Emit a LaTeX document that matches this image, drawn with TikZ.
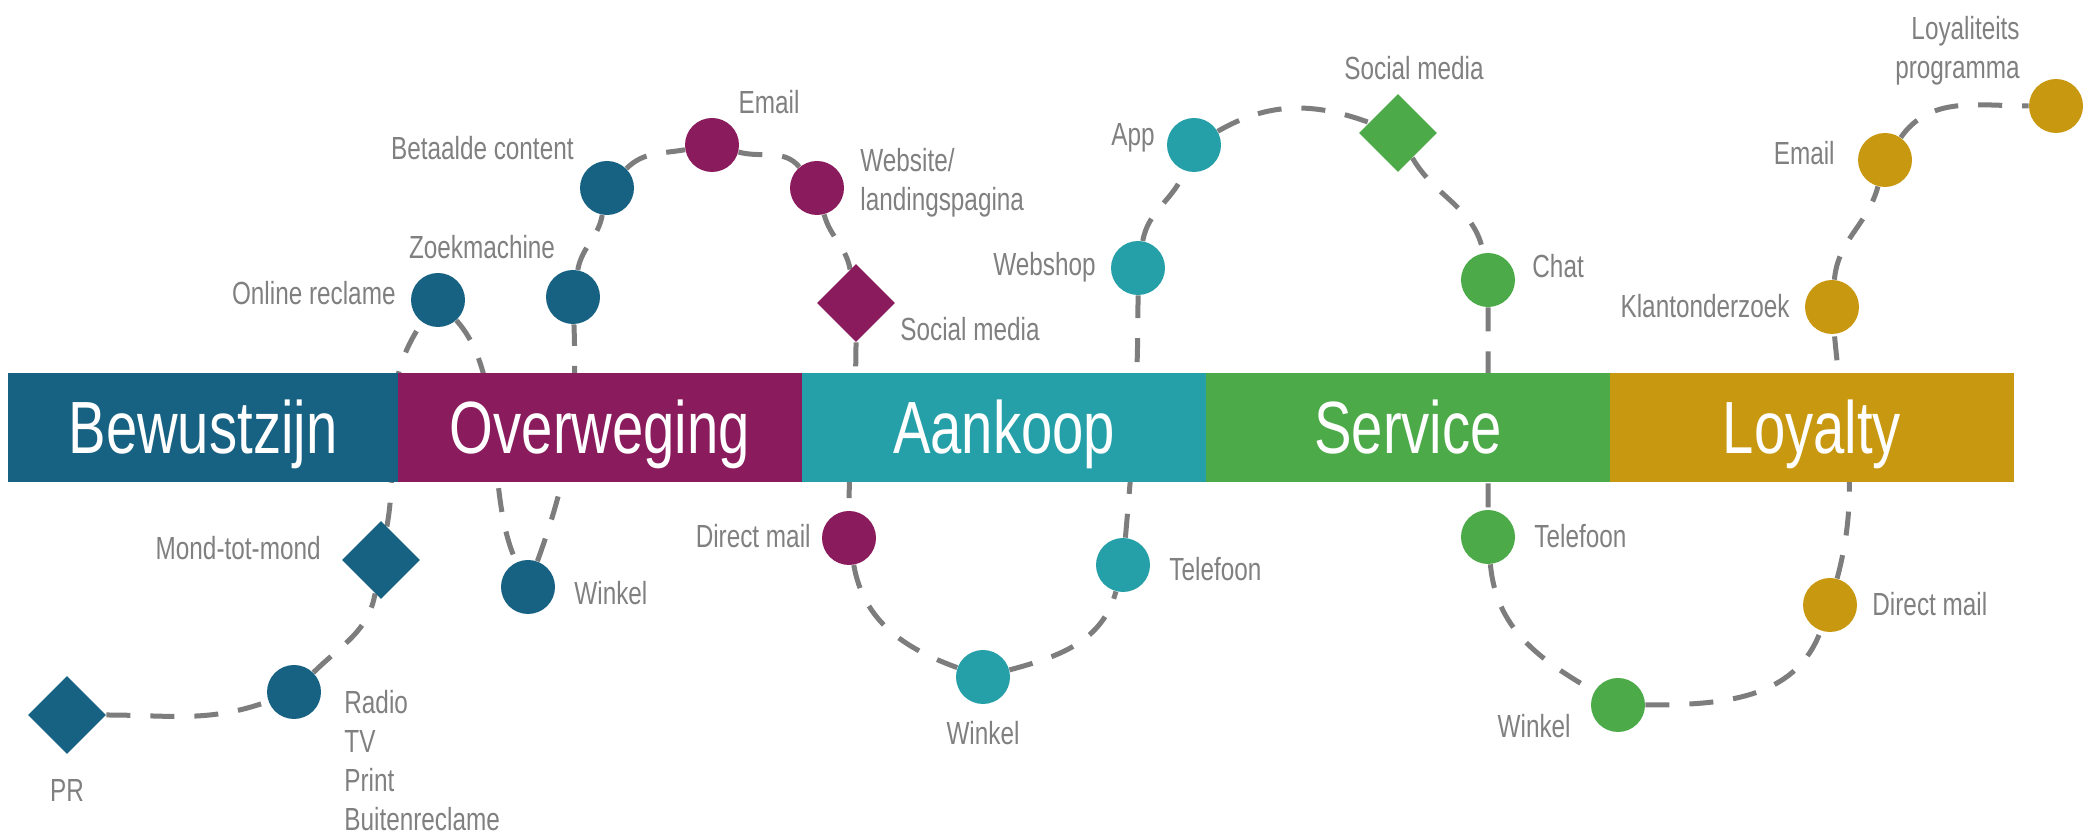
\documentclass[tikz,border=0pt]{standalone}
\usepackage{fontspec}
\setmainfont{Liberation Sans}[FakeStretch=0.76]
\usetikzlibrary{shapes.geometric,positioning,backgrounds}
\definecolor{cBew}{RGB}{23,98,130}
\definecolor{cOvw}{RGB}{138,27,93}
\definecolor{cAank}{RGB}{38,160,168}
\definecolor{cServ}{RGB}{76,170,73}
\definecolor{cLoy}{RGB}{201,152,17}
\definecolor{cLbl}{RGB}{128,128,128}
\definecolor{cRoute}{RGB}{125,125,125}
\tikzset{
  touchdot/.style={circle,fill=#1,draw=none,minimum size=27pt,inner sep=0pt},
  touchdiamond/.style={diamond,fill=#1,draw=none,minimum width=39pt,minimum height=39pt,inner sep=0pt},
  phasebox/.style={fill=#1,text=white,minimum height=54.5pt,inner sep=0pt,outer sep=0pt,text height=26.5pt,text depth=0pt,font=\fontsize{37}{44}\selectfont},
  chanlabel/.style={text=cLbl,inner sep=0pt,font=\fontsize{16}{19.5}\selectfont},
  route/.style={draw=cRoute,line width=2.5pt,dash pattern=on 12pt off 10pt}
}
\begin{document}
\begin{tikzpicture}[x=0.5pt,y=0.5pt]
\useasboundingbox (0,0) rectangle (2098,839);

%Shape: Phases
\node[phasebox=cBew,minimum width=195pt] (bew) at (203,411.5) {Bewustzijn};
\node[phasebox=cOvw,minimum width=202pt,right=0pt of bew] (ovw) {Overweging};
\node[phasebox=cAank,minimum width=202pt,right=0pt of ovw] (aank) {Aankoop};
\node[phasebox=cServ,minimum width=202pt,right=0pt of aank] (serv) {Service};
\node[phasebox=cLoy,minimum width=202pt,right=0pt of serv] (loy) {Loyalty};

%Shape: Touchpoints Bewustzijn
\node[touchdiamond=cBew] (pr) at (67,124) {};
\node[touchdot=cBew] (radio) at (294,147) {};
\node[touchdiamond=cBew] (mond) at (381,279) {};
\node[touchdot=cBew] (online) at (438,539) {};
\node[touchdot=cBew] (winkelA) at (528,252) {};
\node[touchdot=cBew] (zoek) at (573,542) {};
\node[touchdot=cBew] (betaald) at (607,651) {};
%Shape: Touchpoints Overweging
\node[touchdot=cOvw] (emailA) at (712,694) {};
\node[touchdot=cOvw] (website) at (817,651) {};
\node[touchdiamond=cOvw] (socialA) at (856,536) {};
\node[touchdot=cOvw] (dmailA) at (849,301) {};
%Shape: Touchpoints Aankoop
\node[touchdot=cAank] (winkelB) at (983,162) {};
\node[touchdot=cAank] (telA) at (1123,274) {};
\node[touchdot=cAank] (webshop) at (1138,571) {};
\node[touchdot=cAank] (app) at (1194,694) {};
%Shape: Touchpoints Service
\node[touchdiamond=cServ] (socialB) at (1398,706) {};
\node[touchdot=cServ] (chat) at (1488,559) {};
\node[touchdot=cServ] (telB) at (1488,302) {};
\node[touchdot=cServ] (winkelC) at (1618,134) {};
%Shape: Touchpoints Loyalty
\node[touchdot=cLoy] (dmailB) at (1830,234) {};
\node[touchdot=cLoy] (klant) at (1832,532) {};
\node[touchdot=cLoy] (emailB) at (1885,679) {};
\node[touchdot=cLoy] (loyprog) at (2056,733) {};

%Straight Lines: route
\begin{scope}[on background layer]
\draw[route] (pr) to[out=0,in=200] (radio) to[out=45,in=-100] (mond)
  to[out=80,in=-125] (online) to[out=-48,in=115,looseness=0.8] (winkelA)
  to[out=70,in=-88] (zoek) to[out=80,in=-100] (betaald)
  to[out=45,in=190] (emailA) to[out=-15,in=130] (website)
  to[out=-75,in=100] (socialA) to[out=-90,in=90] (dmailA)
  to[out=-80,in=160] (winkelB) to[out=15,in=-105] (telA)
  to[out=85,in=-90] (webshop) to[out=80,in=-110] (app)
  to[out=30,in=160] (socialB) to[out=-60,in=100] (chat)
  to[out=-90,in=90] (telB) to[out=-85,in=150] (winkelC)
  to[out=0,in=-110] (dmailB) to[out=75,in=-85] (klant)
  to[out=85,in=-105] (emailB) to[out=55,in=180] (loyprog);
\end{scope}

% Text Node
\node[chanlabel] (lpr) at (67,49) {PR};
\node[chanlabel,anchor=north west,align=left] (lradio) at (344,149) {Radio\\TV\\Print\\Buitenreclame};
\node[chanlabel,anchor=mid east] (lmond) at (321,285) {Mond-tot-mond};
\node[chanlabel,anchor=mid east] (lonline) at (396,540) {Online reclame};
\node[chanlabel,anchor=mid west] (lwinkelA) at (574,240) {Winkel};
\node[chanlabel] (lzoek) at (482,592) {Zoekmachine};
\node[chanlabel,anchor=mid east] (lbetaald) at (574,685) {Betaalde content};
\node[chanlabel] (lemailA) at (769,737) {Email};
\node[chanlabel,anchor=north west,align=left] (lwebsite) at (860,691) {Website/\\landingspagina};
\node[chanlabel,anchor=mid west] (lsocialA) at (900,504) {Social media};
\node[chanlabel,anchor=mid east] (ldmailA) at (811,297) {Direct mail};
\node[chanlabel] (lwinkelB) at (983,106) {Winkel};
\node[chanlabel,anchor=mid west] (ltelA) at (1169,264) {Telefoon};
\node[chanlabel,anchor=mid east] (lwebshop) at (1096,569) {Webshop};
\node[chanlabel,anchor=mid east] (lapp) at (1155,699) {App};
\node[chanlabel] (lsocialB) at (1414,771) {Social media};
\node[chanlabel,anchor=mid west] (lchat) at (1532,567) {Chat};
\node[chanlabel,anchor=mid west] (ltelB) at (1534,297) {Telefoon};
\node[chanlabel,anchor=mid east] (lwinkelC) at (1571,107) {Winkel};
\node[chanlabel,anchor=mid west] (ldmailB) at (1872,229) {Direct mail};
\node[chanlabel,anchor=mid east] (lklant) at (1790,527) {Klantonderzoek};
\node[chanlabel,anchor=mid east] (lemailB) at (1835,680) {Email};
\node[chanlabel,anchor=north east,align=right] (lloyprog) at (2020,823) {Loyaliteits\\programma};
\end{tikzpicture}
\end{document}
